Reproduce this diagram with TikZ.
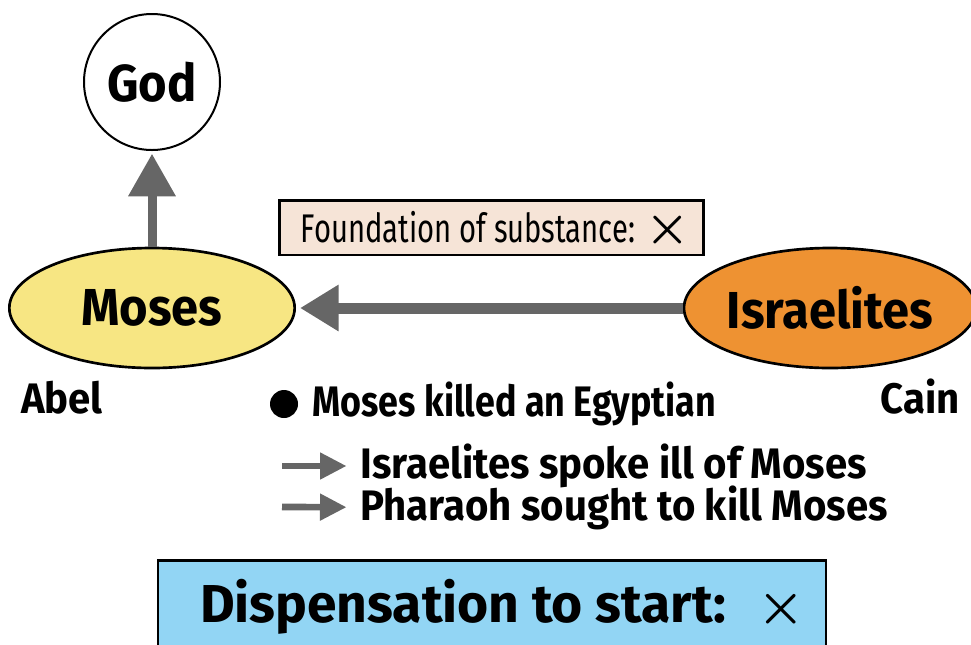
\documentclass[tikz,border=0pt]{standalone}
\usepackage{fontspec}
\setmainfont{Fira Sans}
\newfontfamily\bigfont[FakeStretch=0.94]{Fira Sans}
\newfontfamily\eventfont[FakeStretch=0.84]{Fira Sans}
\newfontfamily\foundfont[FakeStretch=0.73]{Fira Sans}
\usetikzlibrary{arrows.meta,shapes.geometric}
\definecolor{mosesyellow}{HTML}{F7E683}
\definecolor{israelorange}{HTML}{EE9232}
\definecolor{foundpeach}{HTML}{F6E4D7}
\definecolor{dispblue}{HTML}{92D5F4}
\definecolor{arrowgray}{HTML}{666666}
% a large thin cross for the "no" marks
\newcommand{\nomark}[2]{\smash{\raisebox{#2}{\scalebox{#1}{\boldmath$\times$}}}}

\begin{document}
\begin{tikzpicture}[x=0.75pt, y=-0.75pt,
    person/.style={draw=black, line width=2pt, ellipse, inner sep=0pt,
        minimum width=214pt, minimum height=90pt, font=\bigfont\bfseries\fontsize{39}{39}\selectfont},
    bigarrow/.style={draw=arrowgray, line width=#1},
    note/.style={anchor=west, inner sep=0pt, font=\bigfont\bfseries\fontsize{32}{32}\selectfont}]
    \useasboundingbox (0,0) rectangle (971,644);
    % top: God and Moses
    \node[draw, circle, line width=1.5pt, minimum size=102pt, inner sep=0pt,
        font=\bigfont\bfseries\fontsize{39}{39}\selectfont] (god) at (152,82) {God};
    \node[person, fill=mosesyellow] (moses) at (152,308) {Moses};
    \node[person, fill=israelorange] (israelites) at (830,308) {Israelites};
    \node[draw, line width=2pt, fill=foundpeach, minimum width=318pt, minimum height=41pt, inner sep=0pt,
        font=\foundfont\fontsize{30}{30}\selectfont] (found) at (491.5,227.5)
        {\hspace*{6pt}Foundation of substance: \nomark{1.5}{0pt}};
    % arrows between the persons
    \draw[bigarrow=6.75pt, -{Triangle[length=32pt, width=34pt]}, shorten >=2pt] (moses) -- (god);
    \draw[bigarrow=8.25pt, -{Triangle[length=29pt, width=33pt]}, shorten >=3pt] (israelites) -- (moses);
    % Abel and Cain
    \node[font=\bigfont\bfseries\fontsize{32}{32}\selectfont] (abel) at (62,398) {Abel};
    \node[font=\bigfont\bfseries\fontsize{32}{32}\selectfont] (cain) at (920,397) {Cain};
    % what happened
    \node[circle, fill=black, minimum size=21pt, inner sep=0pt] (dot) at (284,404) {};
    \node[note, font=\eventfont\bfseries\fontsize{32}{32}\selectfont] (event) at (312,404) {Moses killed an Egyptian};
    \node[note] (res1) at (360,466) {Israelites spoke ill of Moses};
    \node[note] (res2) at (360,508) {Pharaoh sought to kill Moses};
    \coordinate (r1) at (282,466);
    \coordinate (r2) at (282,507);
    \draw[bigarrow=5pt, -{Triangle[length=20pt, width=19pt]}, shorten >=10pt] (r1) -- (res1);
    \draw[bigarrow=5pt, -{Triangle[length=20pt, width=19pt]}, shorten >=10pt] (r2) -- (res2);
    % bottom
    \node[draw, line width=2pt, fill=dispblue, minimum width=501pt, minimum height=70pt, inner sep=0pt,
        font=\bfseries\fontsize{40}{40}\selectfont] (disp) at (492,607)
        {\hspace*{16pt}Dispensation to start:\hspace{24pt}\nomark{1.6}{0pt}};
\end{tikzpicture}
\end{document}
